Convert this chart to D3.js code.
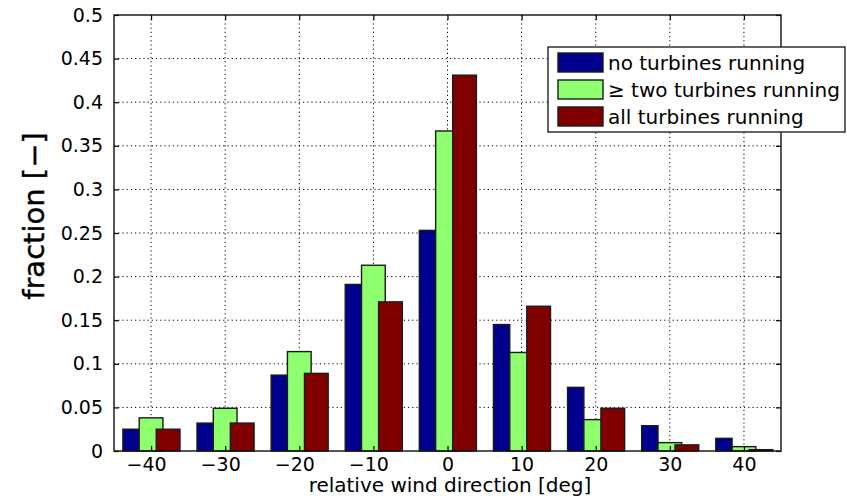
<!DOCTYPE html>
<html lang="en">
<head>
<meta charset="UTF-8">
<title>fraction vs relative wind direction</title>
<script src="https://d3js.org/d3.v7.min.js"></script>
<style>
body { margin: 0; background: #fff; }
svg text { font-family: "DejaVu Sans", sans-serif; fill: #000; }
</style>
</head>
<body>
<div id="chart"></div>
<script>
// data
var directions = [-40, -30, -20, -10, 0, 10, 20, 30, 40];
var noneRunning = [0.025, 0.032, 0.087, 0.191, 0.253, 0.145, 0.073, 0.029, 0.0145];
var twoRunning  = [0.038, 0.049, 0.114, 0.213, 0.367, 0.113, 0.036, 0.0096, 0.005];
var allRunning  = [0.025, 0.032, 0.089, 0.171, 0.431, 0.166, 0.049, 0.007, 0.0015];
var seriesNames = ["no turbines running", "\u2265 two turbines running", "all turbines running"];
var yTicks = [0, 0.05, 0.1, 0.15, 0.2, 0.25, 0.3, 0.35, 0.4, 0.45, 0.5];

var width = 847, height = 498;
// plot box in pixels (window.top is reserved, so no bare "top")
var box = {left: 114, right: 781, top: 15, bottom: 451};
var colors = ["#00008f", "#8fff70", "#800000"];
// bar start offset and width, in x units (matlab grouped bars)
var barOff = [-3.8, -1.6, 0.7];
var barW = [2.2, 3.2, 3.2];

var svg = d3.select("#chart").append("svg")
    .attr("width", width)
    .attr("height", height);

svg.append("rect").attr("width", width).attr("height", height).attr("fill", "#fff");

var x = d3.scaleLinear().domain([-45, 45]).range([box.left, box.right]);
var y = d3.scaleLinear().domain([0, 0.5]).range([box.bottom, box.top]);

// dotted grid
var grid = svg.append("g").attr("stroke", "#000").attr("stroke-width", 1).attr("stroke-dasharray", "1.2,3");
grid.selectAll(".gx").data(directions).enter().append("line")
    .attr("x1", d => x(d)).attr("x2", d => x(d))
    .attr("y1", box.top).attr("y2", box.bottom);
grid.selectAll(".gy").data(yTicks.slice(1, -1)).enter().append("line")
    .attr("x1", box.left).attr("x2", box.right)
    .attr("y1", d => y(d)).attr("y2", d => y(d));

// bars
var series = [noneRunning, twoRunning, allRunning];
series.forEach(function(vals, s) {
    svg.append("g").selectAll("rect")
        .data(vals.map((v, i) => ({dir: directions[i], v: v})))
        .enter().append("rect")
        .attr("x", d => x(d.dir + barOff[s]))
        .attr("width", d => x(d.dir + barOff[s] + barW[s]) - x(d.dir + barOff[s]))
        .attr("y", d => y(d.v))
        .attr("height", d => y(0) - y(d.v))
        .attr("fill", colors[s])
        .attr("stroke", "#1a1a1a")
        .attr("stroke-width", 1.4);
});

// axes, ticks pointing inward on all four sides
var bottomAxis = svg.append("g")
    .attr("transform", "translate(0," + box.bottom + ")")
    .call(d3.axisBottom(x).tickValues(directions).tickSizeInner(-5).tickSizeOuter(0).tickPadding(7));
bottomAxis.select(".domain").remove();
bottomAxis.selectAll("text")
    .attr("font-size", "19px")
    .attr("font-family", "DejaVu Sans, sans-serif")
    .attr("dx", d => d < 0 ? -5 : 0);

var topAxis = svg.append("g")
    .attr("transform", "translate(0," + box.top + ")")
    .call(d3.axisTop(x).tickValues(directions).tickSizeInner(-5).tickSizeOuter(0).tickFormat(""));
topAxis.select(".domain").remove();

var leftAxis = svg.append("g")
    .attr("transform", "translate(" + box.left + ",0)")
    .call(d3.axisLeft(y).tickValues(yTicks).tickSizeInner(-5).tickSizeOuter(0).tickPadding(11)
        .tickFormat(d => String(+d.toFixed(2))));
leftAxis.select(".domain").remove();
leftAxis.selectAll("text")
    .attr("font-size", "19px")
    .attr("font-family", "DejaVu Sans, sans-serif");

var rightAxis = svg.append("g")
    .attr("transform", "translate(" + box.right + ",0)")
    .call(d3.axisRight(y).tickValues(yTicks).tickSizeInner(-5).tickSizeOuter(0).tickFormat(""));
rightAxis.select(".domain").remove();

svg.selectAll(".tick line").attr("stroke", "#000").attr("stroke-width", 1.2);

svg.append("rect")
    .attr("x", box.left).attr("y", box.top)
    .attr("width", box.right - box.left).attr("height", box.bottom - box.top)
    .attr("fill", "none").attr("stroke", "#111").attr("stroke-width", 1.4);

// axis labels
svg.append("text")
    .attr("x", 450).attr("y", 492)
    .attr("text-anchor", "middle")
    .attr("font-size", "20px")
    .text("relative wind direction [deg]");

svg.append("text")
    .attr("transform", "translate(44,216) rotate(-90)")
    .attr("text-anchor", "middle")
    .attr("font-size", "29px")
    .attr("stroke", "#000").attr("stroke-width", 0.4)
    .text("fraction [\u2212]");

// legend
var legend = svg.append("g").attr("transform", "translate(548,47)");
legend.append("rect")
    .attr("width", 297).attr("height", 85)
    .attr("fill", "#fff").attr("stroke", "#111").attr("stroke-width", 1.3);
var item = legend.selectAll(".item").data(seriesNames).enter().append("g")
    .attr("transform", (d, i) => "translate(10," + (6 + i * 27) + ")");
item.append("rect")
    .attr("width", 45).attr("height", 19)
    .attr("fill", (d, i) => colors[i])
    .attr("stroke", "#1a1a1a").attr("stroke-width", 1.4);
item.append("text")
    .attr("x", 50).attr("y", 10)
    .attr("dy", "0.35em")
    .attr("font-size", "20px")
    .text(d => d);
</script>
</body>
</html>
